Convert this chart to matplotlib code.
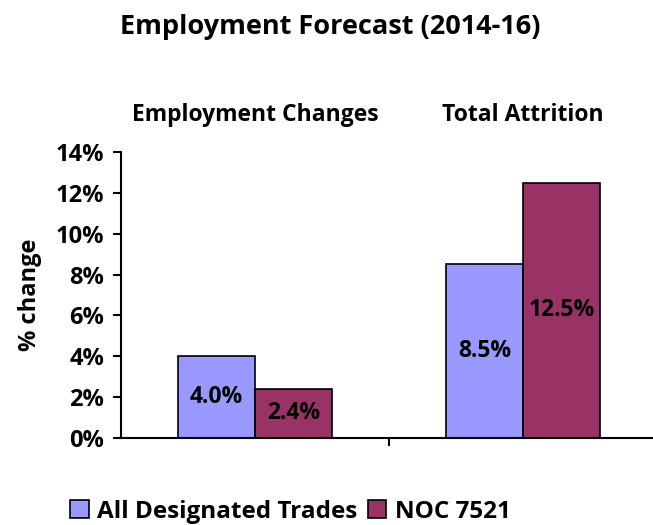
import numpy as np
import matplotlib
matplotlib.use("Agg")
import matplotlib.pyplot as plt
from matplotlib.patches import Patch
from matplotlib.ticker import FuncFormatter

plt.rcParams['font.family'] = ['Open Sans', 'DejaVu Sans']
plt.rcParams['font.weight'] = 'bold'

categories = ["Employment Changes", "Total Attrition"]
series_names = ["All Designated Trades", "NOC 7521"]
all_trades = [4.0, 8.5]
noc_7521 = [2.4, 12.5]
colores = ["#9999FF", "#993366"]
yticks = [0, 2, 4, 6, 8, 10, 12, 14]

fig = plt.figure(figsize=(6.53, 5.25), dpi=100)
ax = fig.add_axes([0.1853, 0.1657, 0.8147, 0.5448])

x = np.arange(len(categories))
ancho = 0.287
barras1 = ax.bar(x - ancho / 2, all_trades, ancho, color=colores[0],
                 edgecolor="black", linewidth=1.2)
barras2 = ax.bar(x + ancho / 2, noc_7521, ancho, color=colores[1],
                 edgecolor="black", linewidth=1.2)

for barras, valores in ((barras1, all_trades), (barras2, noc_7521)):
    for b, v in zip(barras, valores):
        ax.text(b.get_x() + b.get_width() / 2, v / 2, f"{v:.1f}%",
                ha="center", va="center", fontsize=16.5, fontweight="bold")

ax.set_xlim(-0.5, 1.485)
ax.set_ylim(0, 14)
ax.set_yticks(yticks)
ax.yaxis.set_major_formatter(FuncFormatter(lambda v, p: f"{v:.0f}%"))
ax.set_xticks([0.5])
ax.set_xticklabels([""])
ax.tick_params(axis="both", length=6, width=1.5, labelsize=17, direction="out",
               pad=6)
for lbl in ax.get_yticklabels():
    lbl.set_fontweight("bold")

for s in ("top", "right"):
    ax.spines[s].set_visible(False)
ax.spines["left"].set_linewidth(1.5)
ax.spines["bottom"].set_linewidth(1.5)

ax.set_ylabel("% change", fontsize=17, fontweight="bold", labelpad=10)

# etiquetas de categoria arriba del area
for xi, cat in zip(x, categories):
    ax.text(xi, 1.13, cat, transform=ax.get_xaxis_transform(),
            ha="center", va="center", fontsize=16.5, fontweight="bold")

fig.text(0.506, 0.948, "Employment Forecast (2014-16)", ha="center",
         va="center", fontsize=19.5, fontweight="bold")

handles = [Patch(facecolor=colores[0], edgecolor="black", linewidth=1.2),
           Patch(facecolor=colores[1], edgecolor="black", linewidth=1.2)]
fig.legend(handles, series_names, loc="center", bbox_to_anchor=(0.445, 0.025),
           ncol=2, frameon=False, handlelength=0.75,
           handleheight=0.75, handletextpad=0.35, columnspacing=0.45,
           prop={"weight": "bold", "size": 17.5})

fig.savefig("out.png", dpi=100)
